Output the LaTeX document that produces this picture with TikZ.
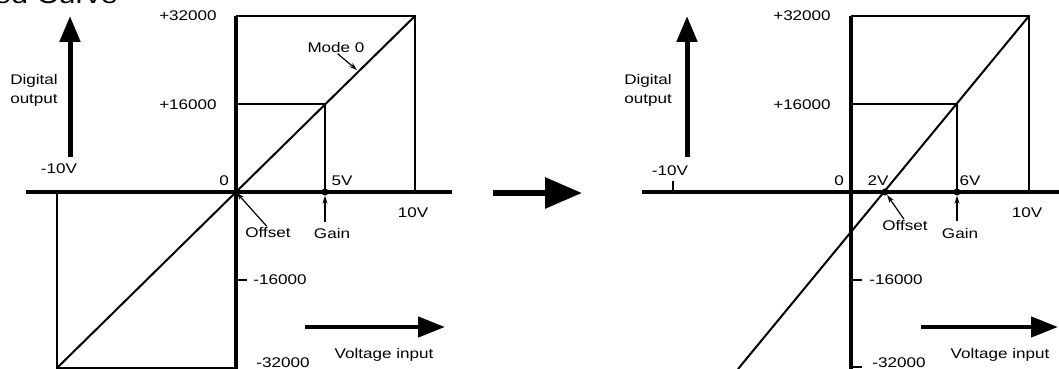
\documentclass[tikz,border=0pt]{standalone}
\usepackage{fontspec}
\setmainfont[FakeStretch=1.22]{Liberation Sans}
\usetikzlibrary{arrows.meta}

\begin{document}
\begin{tikzpicture}[x=1pt,y=-1pt,
    lbl/.style={font=\fontsize{14}{19}\selectfont,inner sep=0pt},
    axisline/.style={line width=4pt},
    thinline/.style={line width=2pt},
    tickline/.style={line width=1.5pt},
    bigarrow/.style={line width=5pt,-{Triangle[length=26pt,width=20pt]}},
    pointer/.style={line width=1.2pt,-{Stealth[length=8pt,width=5pt]}},
    dot/.style={circle,fill,inner sep=0pt,minimum size=7pt}]
  \useasboundingbox (0,0) rectangle (1059,369);
  \clip (0,0) rectangle (1059,369);
  \node[lbl,font=\fontsize{25}{30}\selectfont,anchor=base west] (title) at (-6,4) {ed Curve};

  % left chart: Mode 0
  \coordinate (Ltop) at (236,16);
  \coordinate (Lbot) at (236,372);
  \coordinate (Laxl) at (26,192);
  \coordinate (Laxr) at (452,192);
  \coordinate (L0) at (236,192);
  \coordinate (L10) at (415,192);
  \coordinate (L32) at (415,16);
  \coordinate (L5) at (325,192);
  \coordinate (L16) at (325,104);
  \coordinate (Ly16) at (236,104);
  \coordinate (Lm10) at (57,192);
  \coordinate (Lm32) at (57,368);
  \coordinate (Ly32) at (236,368);
  \coordinate (Lt16a) at (236,280);
  \coordinate (Lt16b) at (247,280);
  \draw[thinline] (Ltop) -- (L32) -- (L10);
  \draw[thinline] (Ly16) -- (L16) -- (L5);
  \draw[thinline] (Lm10) -- (Lm32) -- (Ly32);
  \draw[thinline] (Lm32) -- (L32);
  \draw[tickline] (Lt16a) -- (Lt16b);
  \draw[axisline] (Laxl) -- (Laxr);
  \draw[axisline] (Ltop) -- (Lbot);
  \node[dot] (Lgain) at (L5) {};

  \node[lbl,align=left] (Ldig) at (34,90) {Digital\\output};
  \coordinate (Ldig0) at (70,157);
  \coordinate (Ldig1) at (70,16);
  \draw[bigarrow] (Ldig0) -- (Ldig1);
  \node[lbl] (Lm10lbl) at (59,169) {-10V};
  \node[lbl] (Lp32) at (188,16) {+32000};
  \node[lbl] (Lp16) at (188,105) {+16000};
  \node[lbl] (Lzero) at (224,181) {0};
  \node[lbl] (L5lbl) at (342,181) {5V};
  \node[lbl] (L10lbl) at (413,213) {10V};
  \node[lbl] (Loff) at (268,233) {Offset};
  \node[lbl] (Lgainlbl) at (332,233) {Gain};
  \node[lbl] (Ln16) at (280,280) {-16000};
  \node[lbl] (Ln32) at (283,363) {-32000};
  \node[lbl] (Lvin) at (384,355) {Voltage input};
  \node[lbl] (mode) at (336,47) {Mode 0};
  \coordinate (Lmodetip) at (357,70);
  \coordinate (Lgainfoot) at (325,222);
  \draw[pointer,shorten <=2pt] (mode.south) -- (Lmodetip);
  \draw[pointer,shorten <=2pt,shorten >=1pt] (Loff.north) -- (L0);
  \draw[pointer] (Lgainfoot) -- (Lgain);
  \coordinate (Lvin0) at (305,327);
  \coordinate (Lvin1) at (445,327);
  \draw[bigarrow,line width=4.5pt,-{Triangle[length=27pt,width=20pt]}] (Lvin0) -- (Lvin1);

  % middle arrow
  \coordinate (mid0) at (493,193);
  \coordinate (mid1) at (582,193);
  \draw[line width=6pt,-{Triangle[length=37pt,width=30pt]}] (mid0) -- (mid1);

  % right chart: shifted curve
  \coordinate (Rtop) at (851,16);
  \coordinate (Rbot) at (851,372);
  \coordinate (Raxl) at (642,192);
  \coordinate (Raxr) at (1064,192);
  \coordinate (R10) at (1029,192);
  \coordinate (R32) at (1029,16);
  \coordinate (R6) at (957,192);
  \coordinate (R16) at (957,104);
  \coordinate (Ry16) at (851,104);
  \coordinate (R2) at (885,192);
  \coordinate (Rend) at (738,369);
  \coordinate (Rm10a) at (673,181);
  \coordinate (Rm10b) at (673,192);
  \coordinate (Rt16a) at (851,280);
  \coordinate (Rt16b) at (862,280);
  \coordinate (Rt32a) at (851,367);
  \coordinate (Rt32b) at (862,367);
  \draw[thinline] (Rtop) -- (R32) -- (R10);
  \draw[thinline] (Ry16) -- (R16) -- (R6);
  \draw[thinline] (Rend) -- (R32);
  \draw[tickline] (Rm10a) -- (Rm10b);
  \draw[tickline] (Rt16a) -- (Rt16b);
  \draw[tickline] (Rt32a) -- (Rt32b);
  \draw[axisline] (Raxl) -- (Raxr);
  \draw[axisline] (Rtop) -- (Rbot);
  \node[dot] (Roffdot) at (R2) {};
  \node[dot] (Rgain) at (R6) {};

  \node[lbl,align=left] (Rdig) at (648,90) {Digital\\output};
  \coordinate (Rdig0) at (687,157);
  \coordinate (Rdig1) at (687,16);
  \draw[bigarrow] (Rdig0) -- (Rdig1);
  \node[lbl] (Rm10lbl) at (670,171) {-10V};
  \node[lbl] (Rp32) at (802,16) {+32000};
  \node[lbl] (Rp16) at (802,105) {+16000};
  \node[lbl] (Rzero) at (839,181) {0};
  \node[lbl] (R2lbl) at (878,181) {2V};
  \node[lbl] (R6lbl) at (970,181) {6V};
  \node[lbl] (R10lbl) at (1027,213) {10V};
  \node[lbl] (Roff) at (905,226) {Offset};
  \node[lbl] (Rgainlbl) at (960,233) {Gain};
  \node[lbl] (Rn16) at (896,280) {-16000};
  \node[lbl] (Rn32) at (899,363) {-32000};
  \node[lbl] (Rvin) at (1000,355) {Voltage input};
  \coordinate (Rgainfoot) at (957,221);
  \draw[pointer,shorten <=2pt] (Roff.north) -- (Roffdot);
  \draw[pointer] (Rgainfoot) -- (Rgain);
  \coordinate (Rvin0) at (921,327);
  \coordinate (Rvin1) at (1058,327);
  \draw[bigarrow,line width=4.5pt,-{Triangle[length=27pt,width=20pt]}] (Rvin0) -- (Rvin1);
\end{tikzpicture}
\end{document}
